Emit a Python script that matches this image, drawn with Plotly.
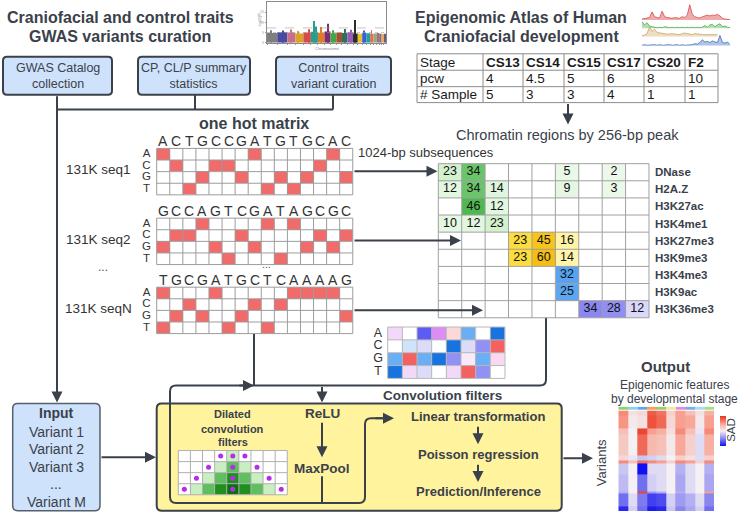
import math
import plotly.graph_objects as go

W, H = 739, 515
FONT = "Liberation Sans, Arial, sans-serif"
DARK = "#3a414a"
GRID = "#9c9c9c"

# ----------------------------- data -----------------------------
curation_sources = ["GWAS Catalog<br>collection", "CP, CL/P summary<br>statistics",
                    "Control traits<br>variant curation"]

stages = ["CS13", "CS14", "CS15", "CS17", "CS20", "F2"]
pcw = ["4", "4.5", "5", "6", "8", "10"]
n_samples = ["5", "3", "3", "4", "1", "1"]
table_rows = ["Stage", "pcw", "# Sample"]

bases = ["A", "C", "G", "T"]
seq_names = ["131K seq1", "131K seq2", "131K seqN"]
seq_letters = ["ACTGCCGATGTGCAC", "GCCAGTCGATAGCGC", "TGCGATGCTCAAAAG"]
# one-hot rows (A, C, G, T) as drawn in the figure
seq_onehot = [
    ["100000010000010", "010011000000100", "000100100101001", "001000001010000"],
    ["000100001010000", "011000100000101", "100010010001010", "000001000100000"],
    ["100010000011110", "001000010100000", "010100100000001", "100001001000000"],
]

marks = ["DNase", "H2A.Z", "H3K27ac", "H3K4me1", "H3K27me3", "H3K9me3",
         "H3K4me3", "H3K9ac", "H3K36me3"]
N = None
mark_signal = [
    [23, 34, N, N, N, 5, N, 2, N],
    [12, 34, 14, N, N, 9, N, 3, N],
    [N, 46, 12, N, N, N, N, N, N],
    [10, 12, 23, N, N, N, N, N, N],
    [N, N, N, 23, 45, 16, N, N, N],
    [N, N, N, 23, 60, 14, N, N, N],
    [N, N, N, N, N, 32, N, N, N],
    [N, N, N, N, N, 25, N, N, N],
    [N, N, N, N, N, N, 34, 28, 12],
]
mark_group = [0, 0, 0, 0, 1, 1, 2, 2, 3]

filter_palette = ["#ffffff", "#f2d9fa", "#5c5cf5", "#dd8cf5", "#fcd9d9", "#6aaef5", "#1673e0",
                  "#cfe3fb", "#dcdcf8", "#9090f5", "#f56060", "#f8eafa", "#fad9f0"]
filter_weights = [
    [1, 0, 2, 3, 4, 5, 0, 6],
    [0, 7, 8, 0, 6, 8, 9, 10],
    [5, 10, 5, 6, 9, 11, 5, 12],
    [6, 1, 8, 0, 1, 10, 9, 0],
]

dilated_level = [
    [0, 0, 0, 0, 1, 0, 0, 0, 0],
    [0, 0, 0, 1, 2, 1, 0, 0, 0],
    [0, 0, 1, 2, 3, 2, 1, 0, 0],
    [0, 1, 2, 3, 4, 3, 2, 1, 0],
]
dilation = [1, 2, 3, 4]

input_variants = ["Variant 1", "Variant 2", "Variant 3", "...", "Variant M"]
model_steps = ["Linear transformation", "Poisson regression", "Prediction/Inference"]

# output SAD heatmap: variant bands x 10 stage features
sad_edges = [0, 15, 55, 75, 140, 158, 165, 200, 253, 260, 300, 315]
sad_values = [
    [0.60, 0.10, 0.15, 0.80, 0.70, 0.20, 0.50, 0.30, 0.10, 0.40],
    [0.55, 0.05, 0.10, 0.85, 0.75, 0.15, 0.50, 0.45, 0.05, 0.50],
    [0.30, 0.00, 0.90, 0.50, 0.40, 0.10, 0.60, 0.30, -0.05, 0.60],
    [0.25, 0.00, 0.75, 0.35, 0.30, 0.05, 0.45, 0.20, -0.10, 0.40],
    [0.15, -0.05, -0.20, -0.15, -0.10, 0.00, 0.20, 0.10, -0.10, 0.20],
    [0.60, 0.30, 0.70, 0.60, 0.50, 0.20, 0.60, 0.50, 0.20, 0.60],
    [-0.20, 0.00, -1.00, -0.10, -0.10, 0.00, -0.30, -0.10, 0.00, -0.30],
    [-0.25, 0.00, -0.60, -0.15, -0.10, 0.00, -0.35, -0.10, 0.00, -0.35],
    [-0.30, 0.00, 0.90, -0.40, -0.30, 0.00, -0.30, -0.10, 0.00, 0.50],
    [-0.60, -0.10, -0.55, -0.80, -0.75, -0.15, -0.40, -0.30, -0.10, -0.50],
    [-0.90, -0.15, -0.60, -0.95, -0.90, -0.20, -0.50, -0.35, -0.15, -0.60],
]
stage_colors = ["#8fd46a", "#8fd0f0", "#5fa8f0", "#f5a05a", "#90d070",
                "#f5e6a0", "#e08ae8", "#70b0f0", "#a8dcf0", "#a0e080"]

# GWAS manhattan thumbnail
gwas_chrom_len = [249, 243, 198, 191, 181, 171, 159, 146, 141, 136, 135,
                  133, 115, 107, 102, 90, 83, 80, 59, 64, 47, 51]
gwas_chrom_base = [4.8, 5.2, 5.0, 4.6, 5.1, 5.4, 4.9, 5.6, 4.7, 5.0, 4.8,
                   5.2, 4.6, 4.4, 4.9, 4.7, 4.5, 4.6, 4.8, 4.4, 4.3, 4.5]
gwas_chrom_color = ["#7f7f7f", "#4a4aa0", "#c86e8c", "#d9a326", "#d94a4a", "#2a9d8f",
                    "#e07b28", "#7b2d6e", "#44a548", "#a0522d", "#2f6f5e", "#9b59b6",
                    "#2b2b2b", "#e6c229", "#3b5bdb", "#1aa3a3", "#e76f51", "#8ab17d",
                    "#b56576", "#577590", "#f4a261", "#6d597a"]
gwas_peak_chrom = [0, 1, 2, 3, 4, 5, 5, 6, 7, 8, 10, 11, 12, 14, 16]
gwas_peak_frac = [0.4, 0.6, 0.5, 0.3, 0.7, 0.45, 0.7, 0.5, 0.6, 0.4, 0.5, 0.6, 0.5, 0.5, 0.4]
gwas_peak_logp = [6.2, 6.0, 6.5, 5.8, 6.6, 10.7, 8.0, 7.8, 9.3, 6.2, 6.8, 6.4, 11.2, 6.0, 6.3]

# chromatin signal thumbnails (top right)
track_red = [0.05, 0.08, 0.10, 0.15, 0.50, 0.20, 0.15, 0.12, 0.55, 0.20, 0.15, 0.12, 0.10,
             0.15, 0.12, 0.10, 0.20, 0.15, 0.30, 0.95, 0.35, 0.20, 0.15, 0.12, 0.20, 0.25,
             0.30, 0.25, 0.30, 0.28, 0.35, 0.25, 0.10, 0.05, 0.03, 0.02]
track_green = [0.60, 0.30, 0.50, 0.20, 0.15, 0.10, 0.05, 0.10, 0.05, 0.15, 0.10, 0.05, 0.10,
               0.05, 0.10, 0.05, 0.10, 0.05, 0.10, 0.05, 0.10, 0.05, 0.10, 0.05, 0.10, 0.25,
               0.10, 0.30, 0.35, 0.15, 0.30, 0.40, 0.15, 0.20, 0.10, 0.05]
track_tan = [0.10, 0.15, 0.30, 0.90, 0.50, 0.70, 0.40, 0.35, 0.30, 0.30, 0.25, 0.25, 0.30,
             0.25, 0.25, 0.20, 0.30, 0.35, 0.30, 0.25, 0.20, 0.30, 0.25, 0.20, 0.20, 0.20,
             0.20, 0.20, 0.20, 0.20, 0.20]
track_blue = [0.05, 0.10, 0.05, 0.08, 0.05, 0.10, 0.05, 0.10, 0.05, 0.08, 0.05, 0.10, 0.05,
              0.08, 0.10, 0.05, 0.10, 0.05, 0.08, 0.05, 0.10, 0.20, 0.15, 0.30, 0.55, 0.35,
              0.40, 0.30, 0.45, 0.35, 0.30, 0.95, 0.30, 0.25, 0.35, 0.10]

# ----------------------------- helpers -----------------------------
fig = go.Figure()
shapes, ann = [], []


def px(x):
    return x / W


def py(y):
    return 1 - y / H


def T(x, y, s, size=13, bold=False, color=DARK, xanchor="center", angle=0):
    ann.append(dict(x=x, y=y, xref="x", yref="y", text=(f"<b>{s}</b>" if bold else s),
                    showarrow=False, xanchor=xanchor, yanchor="middle", textangle=angle,
                    borderpad=0, font=dict(family=FONT, size=size, color=color)))


def A(x0, y0, x1, y1, color=DARK, width=2):
    ann.append(dict(x=x1, y=y1, ax=x0, ay=y0, xref="x", yref="y", axref="x", ayref="y",
                    text="", showarrow=True, arrowhead=2, arrowsize=1.1, arrowwidth=width,
                    arrowcolor=color))


def rpath(points, r=5):
    d = f"M{points[0][0]},{points[0][1]}"
    for i in range(1, len(points) - 1):
        (x0, y0), (x1, y1), (x2, y2) = points[i - 1], points[i], points[i + 1]
        l1 = math.hypot(x1 - x0, y1 - y0)
        l2 = math.hypot(x2 - x1, y2 - y1)
        rr = min(r, l1 / 2, l2 / 2)
        ax_, ay_ = x1 - (x1 - x0) / l1 * rr, y1 - (y1 - y0) / l1 * rr
        bx, by = x1 + (x2 - x1) / l2 * rr, y1 + (y2 - y1) / l2 * rr
        d += f" L{ax_},{ay_} Q{x1},{y1} {bx},{by}"
    d += f" L{points[-1][0]},{points[-1][1]}"
    return d


def L(points, r=5, color=DARK, width=2):
    shapes.append(dict(type="path", path=rpath(points, r), xref="x", yref="y",
                       line=dict(color=color, width=width), fillcolor="rgba(0,0,0,0)",
                       layer="below"))


def rrect(x0, y0, x1, y1, r=4):
    return (f"M{x0 + r},{y0} L{x1 - r},{y0} Q{x1},{y0} {x1},{y0 + r} L{x1},{y1 - r} "
            f"Q{x1},{y1} {x1 - r},{y1} L{x0 + r},{y1} Q{x0},{y1} {x0},{y1 - r} "
            f"L{x0},{y0 + r} Q{x0},{y0} {x0 + r},{y0} Z")


def box(x0, y0, x1, y1, fill, line=DARK, width=2, r=4):
    shapes.append(dict(type="path", path=rrect(x0, y0, x1, y1, r), xref="x", yref="y",
                       fillcolor=fill, line=dict(color=line, width=width), layer="below"))


def grid(x0, y0, dx, dy, nc, nr, color=GRID, width=1):
    xs, ys = [], []
    for i in range(nc + 1):
        x = x0 + i * dx
        xs += [x, x, None]
        ys += [y0, y0 + nr * dy, None]
    for j in range(nr + 1):
        y = y0 + j * dy
        xs += [x0, x0 + nc * dx, None]
        ys += [y, y, None]
    fig.add_trace(go.Scatter(x=xs, y=ys, mode="lines", line=dict(color=color, width=width),
                             hoverinfo="skip", showlegend=False))


def discrete_scale(colors):
    n = len(colors)
    cs = []
    for i, c in enumerate(colors):
        cs += [[i / n, c], [(i + 1) / n, c]]
    return cs


def cell_heatmap(z, x0, y0, dx, dy, colorscale, zmin, zmax):
    fig.add_trace(go.Heatmap(z=z, x0=x0 + dx / 2, dx=dx, y0=y0 + dy / 2, dy=dy,
                             colorscale=colorscale, zmin=zmin, zmax=zmax, showscale=False,
                             hoverinfo="skip"))


def letter_column(x, y0, dy, letters, size):
    fig.add_trace(go.Scatter(x=[x] * len(letters), y=[y0 + (j + 0.5) * dy for j in range(len(letters))],
                             text=letters, mode="text",
                             textfont=dict(family=FONT, size=size, color="#333"),
                             hoverinfo="skip", showlegend=False))


# ----------------------------- top left: GWAS curation -----------------------------
T(120, 18, "Craniofacial and control traits", 16, True)
T(120, 37, "GWAS variants curation", 16, True)

box_pos = [(3, 57, 112, 95), (138, 57, 250, 95), (276, 57, 391, 95)]
for (x0, y0, x1, y1), label in zip(box_pos, curation_sources):
    box(x0, y0, x1, y1, "#cfe2fb")
    ann.append(dict(x=(x0 + x1) / 2, y=(y0 + y1) / 2, xref="x", yref="y", text=label,
                    showarrow=False, font=dict(family=FONT, size=12.5, color=DARK)))
L([(195, 95), (195, 110)])
L([(333, 95), (333, 110)])
L([(57, 110), (333, 110)])
A(57, 95, 57, 404)

# manhattan thumbnail
starts = []
acc = 0
for ln in gwas_chrom_len:
    starts.append(acc)
    acc += ln
fig.add_trace(go.Bar(x=[s + l / 2 for s, l in zip(starts, gwas_chrom_len)], y=gwas_chrom_base,
                     width=gwas_chrom_len, marker=dict(color=gwas_chrom_color, line_width=0),
                     xaxis="x2", yaxis="y2", hoverinfo="skip", showlegend=False))
fig.add_trace(go.Bar(x=[starts[c] + f * gwas_chrom_len[c] for c, f in zip(gwas_peak_chrom, gwas_peak_frac)],
                     y=gwas_peak_logp, width=[22] * len(gwas_peak_logp),
                     marker=dict(color=[gwas_chrom_color[c] for c in gwas_peak_chrom], line_width=0),
                     xaxis="x2", yaxis="y2", hoverinfo="skip", showlegend=False))
for lvl, dash in [(7.3, "dash"), (5.0, "dot")]:
    shapes.append(dict(type="line", xref="x2", yref="y2", x0=0, x1=acc, y0=lvl, y1=lvl,
                       line=dict(color="#9a9a9a", width=0.6, dash=dash)))
ann.append(dict(x=327, y=49, xref="x", yref="y", text="Chromosome", showarrow=False,
                font=dict(family=FONT, size=4, color="#888")))
ann.append(dict(x=260, y=20, xref="x", yref="y", text="-log10(P)", showarrow=False,
                textangle=-90, font=dict(family=FONT, size=3.5, color="#888")))

# ----------------------------- top right: atlas -----------------------------
T(521, 18, "Epigenomic Atlas of Human", 16, True)
T(521, 37, "Craniofacial development", 16, True)

tracks = [(track_red, "#d94848", "rgba(217,72,72,0.45)"),
          (track_green, "#45ad45", "rgba(69,173,69,0.4)"),
          (track_tan, "#c9a56a", "rgba(214,180,120,0.45)"),
          (track_blue, "#3a6fc2", "rgba(58,111,194,0.4)")]
for i, (vals, lc, fc) in enumerate(tracks):
    fig.add_trace(go.Scatter(x=list(range(len(vals))), y=vals, mode="lines",
                             line=dict(color=lc, width=0.8), fill="tozeroy", fillcolor=fc,
                             xaxis="x3", yaxis=f"y{3 + i}", hoverinfo="skip", showlegend=False))

TX = [417, 483, 523, 564, 604, 644, 685, 718]
TY = [54, 70.5, 87, 103]
xs, ys = [], []
for x in TX:
    xs += [x, x, None]
    ys += [TY[0], TY[-1], None]
for y in TY:
    xs += [TX[0], TX[-1], None]
    ys += [y, y, None]
fig.add_trace(go.Scatter(x=xs, y=ys, mode="lines", line=dict(color="#8c8c8c", width=1),
                         hoverinfo="skip", showlegend=False))
table = [stages, pcw, n_samples]
for r, (name, row) in enumerate(zip(table_rows, table)):
    yc = (TY[r] + TY[r + 1]) / 2
    T(TX[0] + 1.5, yc, name, 13.5, False, "#1a1a1a", "left")
    for c, v in enumerate(row):
        T(TX[c + 1] + 1.5, yc, v, 13.5, r == 0, "#1a1a1a", "left")
A(568, 103, 568, 125)

# ----------------------------- one hot matrices -----------------------------
T(254, 124, "one hot matrix", 16, True)
OH_X0, OH_DX, OH_DY = 156.7, 13.07, 11.65
oh_tops = [149.0, 219.0, 288.3]
for k in range(3):
    top = oh_tops[k]
    z = [[int(ch) for ch in row] for row in seq_onehot[k]]
    cell_heatmap(z, OH_X0, top, OH_DX, OH_DY, [[0, "#ffffff"], [1, "#f26b6b"]], 0, 1)
    grid(OH_X0, top, OH_DX, OH_DY, 15, 4)
    for i, ch in enumerate(seq_letters[k]):
        T(OH_X0 + (i + 0.5) * OH_DX, top - 7.5, ch, 14, False, "#333")
    letter_column(146.5, top, OH_DY, bases, 11.5)
    T(98, top + 21.5, seq_names[k], 13.5, False, "#333")
T(103, 268, "...", 12, False, "#555")
T(266, 265.5, "...", 10.5, False, "#555")

# ----------------------------- chromatin matrix -----------------------------
T(567, 136, "Chromatin regions by 256-bp peak", 14.5, False, DARK)
T(426, 153, "1024-bp subsequences", 13, False, "#333")
CX0, CDX, CY0, CDY = 438.3, 23.41, 164.3, 17.19
group_scales = [
    ([[0, "#eefaec"], [0.25, "#e2f6df"], [0.45, "#d4f1cf"], [0.6, "#c4ebbe"],
      [0.66, "#6cc66c"], [1, "#48b448"]], 0, 50),
    ([[0, "#fff6b8"], [0.15, "#fff2a0"], [0.2, "#fde24a"], [0.3, "#fdd835"],
      [0.7, "#f7c41a"], [1, "#f5be12"]], 10, 60),
    ([[0, "#62aaf3"], [1, "#4f9cf0"]], 20, 40),
    ([[0, "#dedcfb"], [0.1, "#d6d4fa"], [0.3, "#9a97f5"], [1, "#8481f2"]], 10, 40),
]
for g, (cs, zmin, zmax) in enumerate(group_scales):
    z = [[v if mark_group[r] == g else None for v in row] for r, row in enumerate(mark_signal)]
    cell_heatmap(z, CX0, CY0, CDX, CDY, cs, zmin, zmax)
grid(CX0, CY0, CDX, CDY, 9, 9, "#a0a0a0")
tx, ty, tt = [], [], []
for r, row in enumerate(mark_signal):
    for c, v in enumerate(row):
        if v is not None:
            tx.append(CX0 + (c + 0.5) * CDX)
            ty.append(CY0 + (r + 0.5) * CDY)
            tt.append(str(v))
fig.add_trace(go.Scatter(x=tx, y=ty, text=tt, mode="text",
                         textfont=dict(family=FONT, size=12.5, color="#111"),
                         hoverinfo="skip", showlegend=False))
for r, m in enumerate(marks):
    T(654, CY0 + (r + 0.5) * CDY, m, 11.5, True, DARK, "left")

A(353, 172, 437.5, 172)
A(353, 241.5, 461, 241.5)
A(353, 311.5, 483, 311.5)

# convolution filter weights
FX0, FDX, FY0, FDY = 387.7, 14.66, 328.3, 12.9
cell_heatmap(filter_weights, FX0, FY0, FDX, FDY, discrete_scale(filter_palette),
             -0.5, len(filter_palette) - 0.5)
grid(FX0, FY0, FDX, FDY, 8, 4, "#b8b8b8")
letter_column(378, FY0, FDY, bases, 12.5)

# ----------------------------- connectors -----------------------------
L([(254, 335), (254, 387)], 0)
L([(546, 319), (546, 387), (170, 387), (170, 505), (365, 505), (365, 420), (384, 420)], 6)
A(238, 387, 254, 387)
A(322, 387, 322, 404)
T(442, 397, "Convolution filters", 13.5, True)

# ----------------------------- bottom boxes -----------------------------
box(12.7, 405, 100, 512.7, "#cfe2fb", "#56606e", 1.5, 5)
T(56.3, 415, "Input", 14, True)
for i, v in enumerate(input_variants):
    T(56.3, 433.3 + i * 17.6, v, 14, False, DARK)
A(100, 459, 156, 459)

shapes.insert(0, dict(type="path", path=rrect(156.7, 405, 561.7, 512.7, 5), xref="x", yref="y",
                      fillcolor="#fff39e", line=dict(color=DARK, width=2), layer="below"))
A(374, 420, 394, 420)

T(232.7, 416, "Dilated", 11, True)
T(232.7, 430.2, "convolution", 11, True)
T(232.7, 443.8, "filters", 11, True)
DX0, DDX, DY0, DDY = 178.3, 12.11, 452.3, 11.1
cell_heatmap(dilated_level, DX0, DY0, DDX, DDY,
             discrete_scale(["#ffffff", "#c8eec2", "#5dbf5d", "#1f8f1f", "#0b6f0b"]), -0.5, 4.5)
grid(DX0, DY0, DDX, DDY, 9, 4, "#b0b0b0")
dx_, dy_ = [], []
for r, d in enumerate(dilation):
    for c in (4 - d, 4, 4 + d):
        dx_.append(DX0 + (c + 0.5) * DDX)
        dy_.append(DY0 + (r + 0.5) * DDY)
fig.add_trace(go.Scatter(x=dx_, y=dy_, mode="markers", marker=dict(color="#b42ee8", size=5),
                         hoverinfo="skip", showlegend=False))

T(322, 415, "ReLU", 13.5, True)
A(322, 423, 322, 459)
T(322, 470, "MaxPool", 13.5, True)
L([(322, 478), (322, 505)], 0)

for i, s in enumerate(model_steps):
    T(478, 418.3 + i * 37.5, s, 13, True)
A(478, 427, 478, 446)
A(478, 465, 478, 484)
A(562, 460, 593, 460)

# ----------------------------- output -----------------------------
T(665, 368, "Output", 15, True)
T(674, 386, "Epigenomic features", 12, False, DARK)
T(674, 400.7, "by developmental stage", 12, False, DARK)
T(601, 465, "Variants", 13, False, DARK, angle=-90)
T(731.5, 432, "SAD", 11.5, False, DARK, angle=-90)

fig.add_trace(go.Heatmap(
    z=sad_values, x=list(range(len(sad_values[0]) + 1)), y=sad_edges,
    colorscale=[[0, "#1010f0"], [0.25, "#8a86f0"], [0.5, "#f4f0f4"], [0.75, "#f8a090"],
                [1, "#e8301c"]], zmin=-1, zmax=1, xaxis="x4", yaxis="y7", hoverinfo="skip",
    colorbar=dict(x=px(720), xanchor="left", y=py(433), yanchor="middle", len=30,
                  lenmode="pixels", thickness=6, outlinewidth=0, showticklabels=False,
                  ticks="", xpad=0, ypad=0)))
fig.add_trace(go.Heatmap(
    z=[list(range(len(stage_colors)))], x=list(range(len(stage_colors) + 1)), y=[0, 1],
    colorscale=discrete_scale(stage_colors), zmin=-0.5, zmax=len(stage_colors) - 0.5,
    showscale=False, xaxis="x4", yaxis="y8", hoverinfo="skip"))

# ----------------------------- layout -----------------------------
hidden = dict(visible=False, fixedrange=True)
fig.update_layout(
    width=W, height=H, margin=dict(l=0, r=0, t=0, b=0),
    paper_bgcolor="white", plot_bgcolor="rgba(0,0,0,0)", showlegend=False, barmode="overlay",
    xaxis=dict(range=[0, W], domain=[0, 1], **hidden),
    yaxis=dict(range=[H, 0], domain=[0, 1], **hidden),
    xaxis2=dict(domain=[px(267), px(386)], range=[0, acc], anchor="y2", showline=True,
                mirror=True, linecolor="#8a8a8a", linewidth=0.8, showgrid=False, zeroline=False,
                ticks="outside", ticklen=1.5, tickcolor="#999", showticklabels=False,
                tickvals=starts, fixedrange=True),
    yaxis2=dict(domain=[py(43), py(2)], range=[0, 20], anchor="x2", showline=True, mirror=True,
                linecolor="#8a8a8a", linewidth=0.8, showgrid=False, zeroline=False,
                ticks="outside", ticklen=1.5, tickcolor="#999", tickvals=[0, 5, 10, 15],
                tickfont=dict(size=3.5, color="#888"), fixedrange=True),
    xaxis3=dict(domain=[px(642), px(730)], range=[0, 35], anchor="y3", **hidden),
    yaxis3=dict(domain=[py(20), py(4)], range=[0, 1], anchor="x3", **hidden),
    yaxis4=dict(domain=[py(28.5), py(17)], range=[0, 1], anchor="x3", **hidden),
    yaxis5=dict(domain=[py(37), py(26)], range=[0, 1], anchor="x3", **hidden),
    yaxis6=dict(domain=[py(46), py(35)], range=[0, 1], anchor="x3", **hidden),
    xaxis4=dict(domain=[px(618.3), px(714)], range=[0, 10], anchor="y7", **hidden),
    yaxis7=dict(domain=[py(513), py(412)], range=[315, 0], anchor="x4", **hidden),
    yaxis8=dict(domain=[py(411.8), py(408.3)], range=[0, 1], anchor="x4", **hidden),
    shapes=shapes, annotations=ann,
)

fig.write_html("out.html", config={"displayModeBar": False},
               post_script="document.body.style.margin='0px';")
